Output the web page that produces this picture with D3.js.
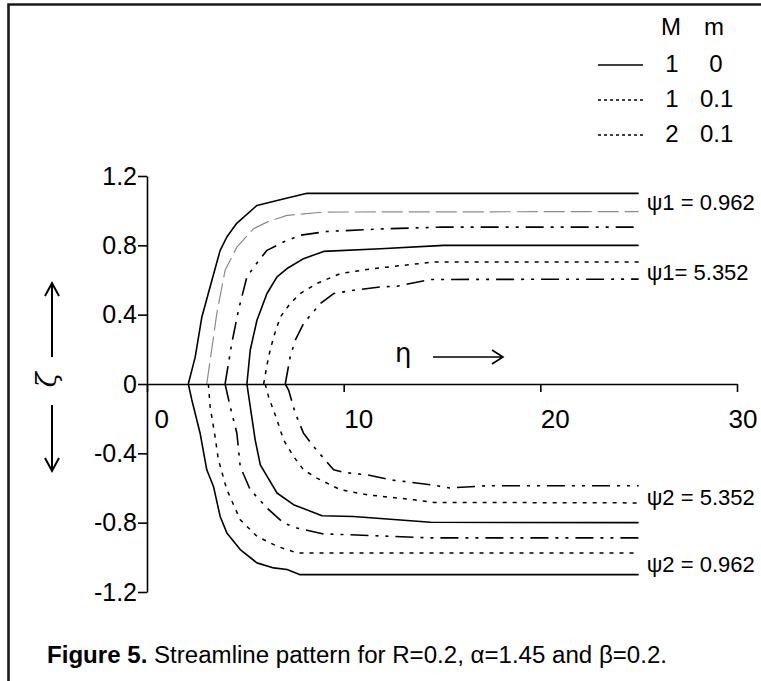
<!DOCTYPE html>
<html>
<head>
<meta charset="utf-8">
<script src="https://cdn.jsdelivr.net/npm/d3@7"></script>
<style>
  html, body { margin: 0; padding: 0; background: #fff; }
  svg { display: block; font-family: "Liberation Sans", Arial, sans-serif; }
</style>
</head>
<body>
<svg id="chart" width="761" height="681"></svg>
<script>
// ---------------- data (η, ζ) ----------------
const xTicks = [0, 10, 20, 30];
const yTicks = [1.2, 0.8, 0.4, 0, -0.4, -0.8, -1.2];
const yTickLabels = ["1.2", "0.8", "0.4", "0", "-0.4", "-0.8", "-1.2"];

// upper half (ψ1)
const upperSolidOuter = [[2.10,0],[2.45,0.155],[2.79,0.387],[3.12,0.524],[3.30,0.599],[3.72,0.771],[4.06,0.848],[4.56,0.927],[5.59,1.03],[7.03,1.07],[8.14,1.10],[25,1.10]];
const upperGrayDash = [[3.04,0],[3.55,0.407],[3.97,0.656],[4.57,0.79],[5.42,0.896],[6.1,0.934],[7.12,0.973],[8.98,0.992],[25,0.995]];
const upperDashDotOuter = [[3.97,0],[4.31,0.234],[4.65,0.426],[5.08,0.618],[5.5,0.685],[6.1,0.771],[6.94,0.819],[7.79,0.858],[9.15,0.88],[12,0.895],[15,0.905],[25,0.905]];
const upperSolidInner = [[5.08,0],[5.25,0.196],[5.59,0.368],[6.1,0.522],[6.61,0.618],[7.12,0.666],[7.96,0.723],[8.98,0.765],[11.87,0.78],[15.1,0.80],[25,0.80]];
const upperDotted = [[5.93,0],[6.18,0.157],[6.44,0.272],[6.78,0.387],[7.28,0.464],[7.79,0.522],[8.64,0.58],[9.83,0.637],[11.53,0.666],[14.6,0.704],[25,0.704]];
const upperDashDotInner = [[7.03,0],[7.28,0.157],[7.54,0.253],[7.96,0.349],[8.81,0.464],[9.49,0.522],[10.51,0.541],[11.87,0.56],[12.72,0.564],[14.42,0.603],[25,0.605]];

// lower half (ψ2)
const lowerSolidOuter = [[2.10,0],[2.28,-0.092],[2.70,-0.284],[3.04,-0.495],[3.38,-0.591],[3.72,-0.764],[4.06,-0.859],[4.74,-0.955],[5.59,-1.032],[6.44,-1.061],[7.12,-1.07],[7.79,-1.10],[25,-1.10]];
const lowerDottedOuter = [[3.12,0],[3.21,-0.13],[3.46,-0.303],[3.63,-0.437],[4.06,-0.61],[4.74,-0.783],[5.59,-0.879],[6.61,-0.936],[7.63,-0.975],[25,-0.975]];
const lowerDashDotOuter = [[3.97,0],[4.23,-0.13],[4.57,-0.284],[4.74,-0.476],[5.25,-0.61],[6.1,-0.715],[6.94,-0.802],[7.63,-0.831],[8.98,-0.865],[10.17,-0.869],[14.42,-0.888],[25,-0.888]];
const lowerSolidInner = [[5.08,0],[5.25,-0.13],[5.5,-0.322],[5.76,-0.466],[6.01,-0.514],[6.61,-0.629],[7.45,-0.696],[8.9,-0.76],[10.5,-0.764],[12.72,-0.783],[14.42,-0.798],[25,-0.80]];
const lowerDottedInner = [[6.01,0],[6.18,-0.073],[6.61,-0.207],[6.94,-0.322],[7.45,-0.418],[7.96,-0.495],[8.64,-0.543],[9.83,-0.61],[11.19,-0.639],[13.57,-0.668],[14.6,-0.683],[25,-0.686]];
const lowerDashDotInner = [[7.03,0],[7.2,-0.035],[7.54,-0.169],[7.96,-0.284],[8.47,-0.361],[9.49,-0.495],[10.0,-0.51],[11.19,-0.524],[12.38,-0.553],[14.42,-0.581],[15.4,-0.600],[17.3,-0.587],[25,-0.587]];

const legendHeader = ["M", "m"];
const legendM = ["1", "1", "2"];
const legendm = ["0", "0.1", "0.1"];
const psiLabels = [
  {text: "ψ1 = 0.962", eta: 25, zeta: 1.05},
  {text: "ψ1=  5.352", eta: 25, zeta: 0.645},
  {text: "ψ2 = 5.352", eta: 25, zeta: -0.65},
  {text: "ψ2 = 0.962", eta: 25, zeta: -1.04}
];

// ---------------- drawing ----------------
const svg = d3.select("#chart");
const x = d3.scaleLinear().domain([0, 30]).range([147, 737]);
const y = d3.scaleLinear().domain([-1.2, 1.2]).range([592, 176]);

// frame
svg.append("path").attr("d", "M8.5,690 L8.5,4.5 L770,4.5")
  .attr("fill", "none").attr("stroke", "#1a1a1a").attr("stroke-width", 2.6);

const styles = {
  solid: {stroke: "#000", width: 1.6, dash: null},
  gray: {stroke: "#8a8a8a", width: 1.2, dash: "21,6"},
  dashdot: {stroke: "#000", width: 1.6, dash: "18,7,3,7,3,7"},
  dotted: {stroke: "#000", width: 1.5, dash: "4,6"}
};
const series = [
  [upperSolidOuter, "solid"], [upperGrayDash, "gray"], [upperDashDotOuter, "dashdot"],
  [upperSolidInner, "solid"], [upperDotted, "dotted"], [upperDashDotInner, "dashdot"],
  [lowerSolidOuter, "solid"], [lowerDottedOuter, "dotted"], [lowerDashDotOuter, "dashdot"],
  [lowerSolidInner, "solid"], [lowerDottedInner, "dotted"], [lowerDashDotInner, "dashdot"]
];
const line = d3.line().x(d => x(d[0])).y(d => y(d[1]));
series.forEach(([data, st]) => {
  const s = styles[st];
  svg.append("path").attr("d", line(data)).attr("fill", "none")
    .attr("stroke", s.stroke).attr("stroke-width", s.width)
    .attr("stroke-dasharray", s.dash).attr("stroke-linejoin", "round");
});

// y axis
const yAxis = d3.axisLeft(y).tickValues(yTicks)
  .tickFormat((d, i) => yTickLabels[i]).tickSize(9).tickSizeOuter(0).tickPadding(1);
const gy = svg.append("g").attr("transform", `translate(${x(0)},0)`).call(yAxis);
gy.selectAll("path, line").attr("stroke", "#000").attr("stroke-width", 1.6);
gy.selectAll("text").attr("font-size", 25).attr("fill", "#000")
  .attr("font-family", "Liberation Sans, Arial, sans-serif");

// x axis
const xAxis = d3.axisBottom(x).tickValues(xTicks).tickFormat(d3.format("d"))
  .tickSize(8).tickSizeOuter(0).tickPadding(18);
const gx = svg.append("g").attr("transform", `translate(0,${y(0)})`).call(xAxis);
gx.selectAll("path, line").attr("stroke", "#000").attr("stroke-width", 1.6);
gx.selectAll("text").attr("font-size", 26).attr("fill", "#000")
  .attr("font-family", "Liberation Sans, Arial, sans-serif")
  .attr("text-anchor", d => d === 30 ? "end" : "start")
  .attr("dx", d => d === 0 ? 7 : (d === 30 ? 20 : 0));

// η label with arrow
svg.append("text").attr("x", 395).attr("y", 362).attr("font-size", 26)
  .attr("font-family", "DejaVu Sans, sans-serif").text("η");
svg.append("path").attr("d", "M433,357 L503,357 M492,350 L503,357 L492,364")
  .attr("fill", "none").attr("stroke", "#000").attr("stroke-width", 1.6);

// ζ label with arrows
svg.append("text").attr("transform", "translate(56,380) rotate(-90)")
  .attr("text-anchor", "middle").attr("font-size", 28)
  .attr("font-family", "DejaVu Serif, serif").attr("font-style", "italic").text("ζ");
svg.append("path").attr("d", "M52,357 L52,283 M45,296 L52,283 L59,296 M52,405 L52,471 M45,458 L52,471 L59,458")
  .attr("fill", "none").attr("stroke", "#000").attr("stroke-width", 2);

// ψ labels
svg.selectAll("text.psi").data(psiLabels).join("text").attr("class", "psi")
  .attr("x", d => x(d.eta) + 8).attr("y", d => y(d.zeta) + 8)
  .attr("font-size", 22).text(d => d.text);

// legend
const lg = svg.append("g");
lg.selectAll("text.hdr").data(legendHeader).join("text").attr("class", "hdr")
  .attr("x", (d, i) => [671, 714][i]).attr("y", 35).attr("text-anchor", "middle")
  .attr("font-size", 24).text(d => d);
const rowsY = [72, 107, 142];
const legStyles = ["solid", "dotted", "dotted"];
legendM.forEach((m, i) => {
  const s = styles[legStyles[i]];
  lg.append("line").attr("x1", 598).attr("x2", 643).attr("y1", rowsY[i] - 7).attr("y2", rowsY[i] - 7)
    .attr("stroke", "#000").attr("stroke-width", s === styles.solid ? 1.6 : 1.3)
    .attr("stroke-dasharray", s === styles.solid ? null : "3,3");
  lg.append("text").attr("x", 672).attr("y", rowsY[i]).attr("text-anchor", "middle")
    .attr("font-size", 24).text(m);
  lg.append("text").attr("x", legendm[i] === "0" ? 716 : 700).attr("y", rowsY[i])
    .attr("text-anchor", legendm[i] === "0" ? "middle" : "start")
    .attr("font-size", 24).text(legendm[i]);
});

// caption
const cap = svg.append("text").attr("x", 47).attr("y", 663).attr("font-size", 23)
  .attr("textLength", 620).attr("lengthAdjust", "spacingAndGlyphs");
cap.append("tspan").attr("font-weight", "bold").text("Figure 5.");
cap.append("tspan").text(" Streamline pattern for R=0.2, α=1.45 and β=0.2.");
</script>
</body>
</html>
